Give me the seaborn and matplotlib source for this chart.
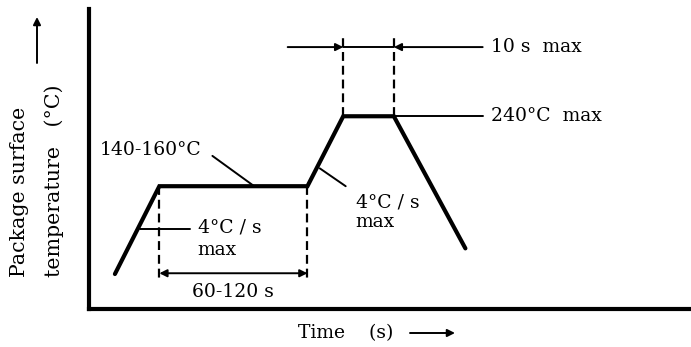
import numpy as np
import pandas as pd
import seaborn as sns
import matplotlib
matplotlib.use("Agg")
import matplotlib.pyplot as plt

# ── Data (schematic reflow profile) ──────────────────────────────────────────
time_s = [21, 57, 177, 206, 247, 305]
temp_c = [37, 150, 150, 240, 240, 70]

preheat_start, preheat_end = 57, 177
peak_start, peak_end = 206, 247
peak_temp = 240
preheat_temp = 150

lbl_preheat = "140-160°C"
lbl_ramp = "4°C / s\nmax"
lbl_preheat_time = "60-120 s"
lbl_peak_time = "10 s  max"
lbl_peak_temp = "240°C  max"

# ── Style ────────────────────────────────────────────────────────────────────
sns.set_style("white")
plt.rcParams["font.family"] = ["DejaVu Serif"]
plt.rcParams["text.color"] = "black"
FS = 13.5

fig = plt.figure(figsize=(6.91, 3.47), dpi=100)
ax = fig.add_axes([89 / 691, 38 / 347, 601 / 691, 300 / 347])

df = pd.DataFrame({"time": time_s, "temp": temp_c})
sns.lineplot(data=df, x="time", y="temp", sort=False, color="black", lw=3,
             ax=ax, solid_joinstyle="miter")

ax.set_xlim(0, 487)
ax.set_ylim(-8, 378)
ax.set_xticks([])
ax.set_yticks([])
ax.set_xlabel("")
ax.set_ylabel("")
sns.despine(ax=ax)
for s in ["left", "bottom"]:
    ax.spines[s].set_linewidth(3)
    ax.spines[s].set_color("black")

thin = dict(color="black", lw=1.4)
dash = dict(color="black", lw=1.6, linestyle=(0, (4.0, 2.2)))
arr = dict(arrowstyle="-|>", color="black", lw=1.4, mutation_scale=11,
           shrinkA=0, shrinkB=0)

# preheat window
for t in (preheat_start, preheat_end):
    ax.plot([t, t], [preheat_temp, 27], **dash)
ax.annotate("", xy=(preheat_start, 38), xytext=(preheat_end, 38),
            arrowprops=dict(arr, arrowstyle="<|-|>"))
ax.text((preheat_start + preheat_end) / 2, 14, lbl_preheat_time,
        ha="center", va="center", fontsize=FS)

# peak window
for t in (peak_start, peak_end):
    ax.plot([t, t], [peak_temp, 342], **dash)
ax.plot([peak_start, peak_end], [329, 329], **thin)
ax.annotate("", xy=(peak_start, 329), xytext=(161, 329), arrowprops=arr)
ax.annotate("", xy=(peak_end, 329), xytext=(319, 329), arrowprops=arr)
ax.text(326, 329, lbl_peak_time, ha="left", va="center", fontsize=FS)

# peak temperature
ax.plot([peak_end, 319], [peak_temp, peak_temp], **thin)
ax.text(326, peak_temp, lbl_peak_temp, ha="left", va="center", fontsize=FS)

# preheat temperature
ax.plot([100, 133], [189, 151], **thin)
ax.text(9, 196, lbl_preheat, ha="left", va="center", fontsize=FS)

# ramp rates
ax.plot([41, 82], [95, 95], **thin)
ax.text(88, 108, lbl_ramp, ha="left", va="top", fontsize=FS, linespacing=1.3)
ax.plot([187, 208], [173, 150], **thin)
ax.text(216, 141, lbl_ramp, ha="left", va="top", fontsize=FS, linespacing=1.15)

# axis labels
fig.text(20 / 691, 70 / 347, "Package surface", rotation=90,
         ha="center", va="bottom", fontsize=14.8)
fig.text(54 / 691, 70 / 347, "temperature   (°C)", rotation=90,
         ha="center", va="bottom", fontsize=14.8)
fig.text(298 / 691, 14 / 347, "Time    (s)", ha="left", va="center",
         fontsize=FS)
fig.add_artist(matplotlib.patches.FancyArrowPatch(
    (410 / 691, 14 / 347), (455 / 691, 14 / 347), transform=fig.transFigure,
    **arr))
fig.add_artist(matplotlib.patches.FancyArrowPatch(
    (37 / 691, 284 / 347), (37 / 691, 330 / 347), transform=fig.transFigure,
    **arr))

fig.savefig("out.png", dpi=100)
